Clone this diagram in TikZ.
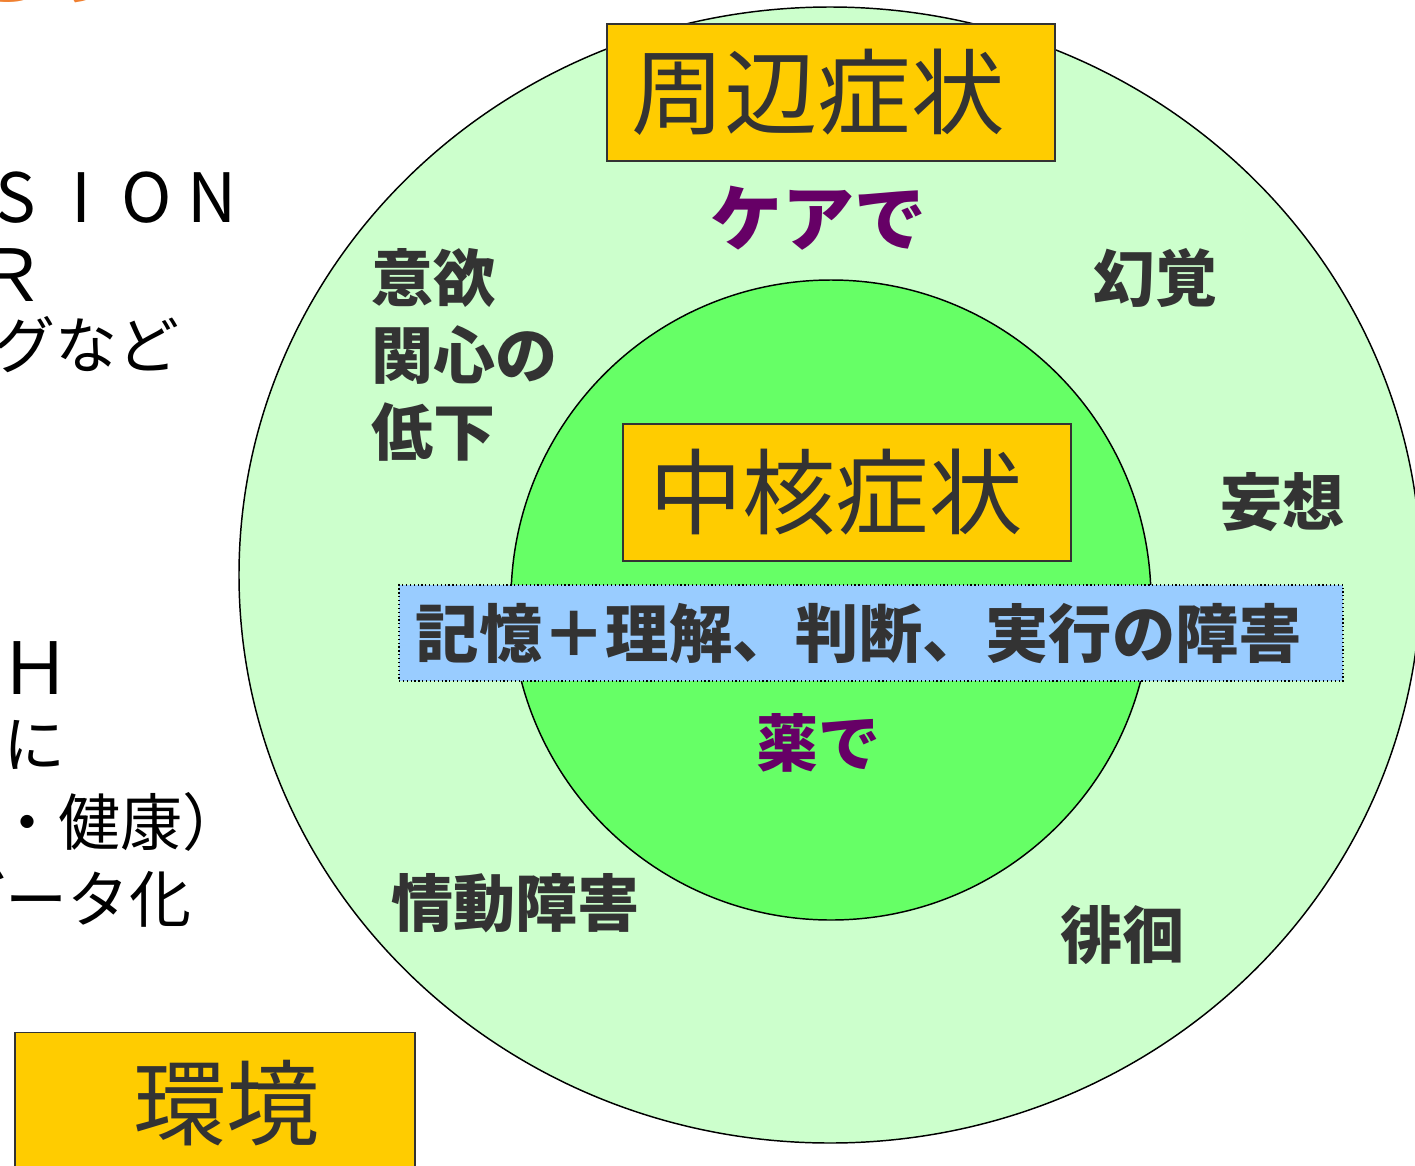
\documentclass[tikz,border=0pt]{standalone}
\usepackage{fontspec}
\setmainfont{Noto Sans CJK JP}
\usetikzlibrary{shapes.geometric}
\definecolor{outerfill}{HTML}{CCFFCC}
\definecolor{innerfill}{HTML}{66FF66}
\definecolor{boxfill}{HTML}{FFCC00}
\definecolor{bluefill}{HTML}{99CCFF}
\definecolor{purp}{HTML}{660066}
\definecolor{tx}{HTML}{333333}
\definecolor{orangetx}{HTML}{F08030}
\newcommand{\wl}[1]{\makebox[49pt]{#1}}
\tikzset{
  ring/.style={ellipse, draw=black, line width=1.1pt, inner sep=0pt},
  titlebox/.style={rectangle, draw=tx, line width=0.8pt, fill=boxfill, text=tx,
    minimum width=336pt, minimum height=102.75pt, inner sep=0pt,
    font=\fontsize{70}{70}\selectfont},
  bluebox/.style={rectangle, draw=black, dotted, line width=0.9pt, fill=bluefill, text=tx,
    minimum width=708pt, minimum height=72pt, inner sep=0pt,
    font=\fontsize{47.5}{50}\selectfont\bfseries},
  symlabel/.style={text=tx, inner sep=0pt, font=\fontsize{46.5}{57.75}\selectfont\bfseries},
  howlabel/.style={text=purp, inner sep=0pt, font=\fontsize{54}{60}\selectfont\bfseries},
  sidetext/.style={text=black, inner sep=0pt, font=\fontsize{46.5}{50}\selectfont}
}
\begin{document}
\begin{tikzpicture}[x=0.75pt,y=-0.75pt]
\useasboundingbox (0,0) rectangle (1415,1165);
\clip (0,0) rectangle (1415,1165);
\fill[white] (0,0) rectangle (1415,1165);

% cut-off heading at the top
\node[text=orangetx, inner sep=0pt, anchor=south east, font=\fontsize{56}{60}\selectfont\bfseries] (head) at (124,4.5) {ろう};

% left side texts (cut off by the frame)
\node[sidetext, anchor=east, font=\fontsize{51}{60}\selectfont] (t1) at (245,198) {\wl{S}\wl{I}\wl{O}\wl{N}};
\node[sidetext, anchor=east, font=\fontsize{54}{60}\selectfont] (t2) at (47,275) {Ｒ};
\node[sidetext, anchor=east] (t3) at (180,345) {グなど};
\node[sidetext, font=\fontsize{54}{60}\selectfont] (t4) at (35,668) {Ｈ};
\node[sidetext] (t5) at (34,745) {に};
\node[sidetext, anchor=east] (t6) at (245,822) {・健康）};
\node[sidetext, anchor=east] (t7) at (192,898) {データ化};

% circles
\node[ring, fill=outerfill, minimum width=886.5pt, minimum height=852pt] (outer) at (830,575) {};
\node[ring, fill=innerfill, minimum width=480pt, minimum height=480pt] (inner) at (831,600) {};

% boxes
\node[titlebox] (peri) at (831,92.5) {\kern-20pt 周辺症状};
\node[titlebox] (core) at (847,492.5) {\kern-17pt 中核症状};
\node[bluebox] (deficit) at (871,633) {\kern-18pt 記憶＋理解、判断、実行の障害};
\node[titlebox, minimum width=300pt, minimum height=107pt] (env) at (215,1103.5) {\kern17pt 環境};

% labels
\node[howlabel] (care) at (818,218) {ケアで};
\node[howlabel, font=\fontsize{46.5}{50}\selectfont\bfseries] (drug) at (818,743) {薬で};
\node[symlabel, anchor=west, align=left] (apathy) at (371,355) {意欲\\関心の\\低下};
\node[symlabel] (hallu) at (1155,278) {幻覚};
\node[symlabel] (delus) at (1282,502) {妄想};
\node[symlabel] (emot) at (515,903) {情動障害};
\node[symlabel] (wander) at (1122,935) {徘徊};
\end{tikzpicture}
\end{document}
